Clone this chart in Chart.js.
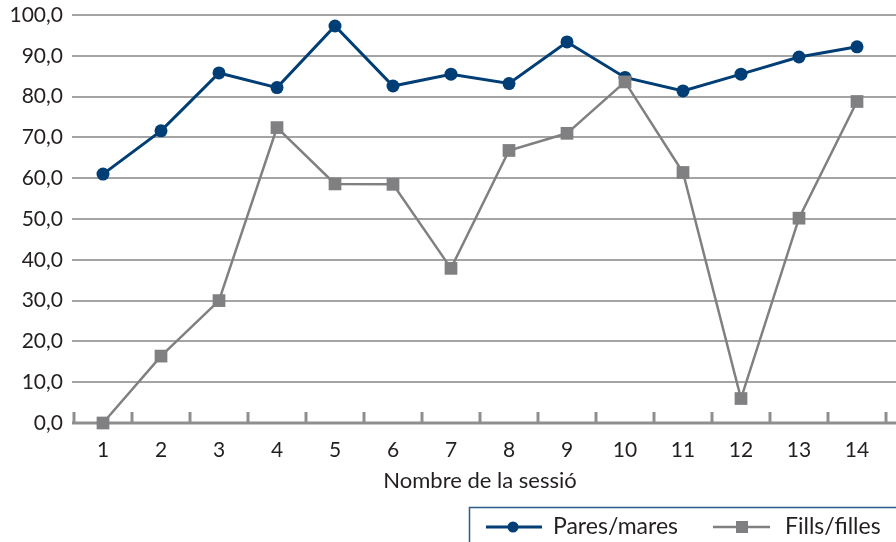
<!DOCTYPE html>
<html>
<head>
<meta charset="utf-8">
<title>Sessions</title>
<script src="https://cdn.jsdelivr.net/npm/chart.js@4.4.0/dist/chart.umd.min.js"></script>
<style>
  html, body { margin: 0; padding: 0; background: #fff; overflow: hidden; }
  #wrap { position: relative; width: 896px; height: 542px; }
</style>
</head>
<body>
<div id="wrap"><canvas id="sessionChart" width="896" height="542"></canvas></div>
<script>
// Session numbers and percentage per group
const sessions = ['1', '2', '3', '4', '5', '6', '7', '8', '9', '10', '11', '12', '13', '14'];
const paresMares = [61.0, 71.6, 85.8, 82.2, 97.3, 82.6, 85.5, 83.2, 93.4, 84.7, 81.4, 85.5, 89.7, 92.2];
const fillsFilles = [0.0, 16.4, 30.0, 72.4, 58.6, 58.5, 37.9, 66.8, 71.0, 83.6, 61.4, 6.0, 50.2, 78.8];
const yTickValues = [0, 10, 20, 30, 40, 50, 60, 70, 80, 90, 100];

const BLUE = '#003e75';
const GREY = '#808083';
const AXIS = '#8e8e8e';
const GRID = '#a4a4a4';
const TEXT = '#231f20';
const FONT = 'Lato';

// draws the small upward ticks between sessions and stretches grid to the edge
const axisExtras = {
  id: 'axisExtras',
  beforeDatasetsDraw(chart) {
    const { ctx, chartArea, scales } = chart;
    const x = scales.x, y = scales.y;
    ctx.save();
    ctx.strokeStyle = GRID;
    ctx.lineWidth = 2;
    yTickValues.forEach(function (v) {
      if (v === 0) return;
      const py = Math.round(y.getPixelForValue(v));
      ctx.beginPath();
      ctx.moveTo(chartArea.left - 2, py);
      ctx.lineTo(chart.width, py);
      ctx.stroke();
    });
    const base = y.getPixelForValue(0);
    ctx.strokeStyle = AXIS;
    ctx.lineWidth = 3;
    ctx.beginPath();
    ctx.moveTo(chartArea.left - 2, base);
    ctx.lineTo(chart.width, base);
    ctx.stroke();
    const step = x.getPixelForValue(1) - x.getPixelForValue(0);
    for (let i = 0; i <= sessions.length; i++) {
      const px = Math.round(x.getPixelForValue(0) + (i - 0.5) * step);
      ctx.beginPath();
      ctx.moveTo(px, base);
      ctx.lineTo(px, base - 11);
      ctx.stroke();
    }
    ctx.restore();
  },
};

// boxed legend in the lower right corner
const boxLegend = {
  id: 'boxLegend',
  afterDraw(chart) {
    const ctx = chart.ctx;
    ctx.save();
    ctx.strokeStyle = '#2d5b8a';
    ctx.lineWidth = 1.5;
    ctx.strokeRect(469.5, 507.5, 600, 100);

    const ly = 527;
    ctx.lineWidth = 3;
    ctx.strokeStyle = BLUE;
    ctx.beginPath();
    ctx.moveTo(486, ly);
    ctx.lineTo(542, ly);
    ctx.stroke();
    ctx.fillStyle = BLUE;
    ctx.beginPath();
    ctx.arc(513, ly, 5.5, 0, Math.PI * 2);
    ctx.fill();

    ctx.lineWidth = 2.5;
    ctx.strokeStyle = GREY;
    ctx.beginPath();
    ctx.moveTo(713, ly);
    ctx.lineTo(770, ly);
    ctx.stroke();
    ctx.fillStyle = GREY;
    ctx.fillRect(736, ly - 6, 12, 12);

    ctx.fillStyle = TEXT;
    ctx.font = '23px ' + FONT;
    ctx.textBaseline = 'middle';
    ctx.fillText('Pares/mares', 553, ly);
    ctx.fillText('Fills/filles', 785, ly);
    ctx.restore();
  },
};

const ctx = document.getElementById('sessionChart').getContext('2d');
new Chart(ctx, {
  type: 'line',
  data: {
    labels: sessions,
    datasets: [
      {
        label: 'Pares/mares',
        data: paresMares,
        borderColor: BLUE,
        backgroundColor: BLUE,
        borderWidth: 3,
        pointRadius: 6.5,
        pointStyle: 'circle',
        pointBorderWidth: 0,
        order: 1,
        clip: false,
      },
      {
        label: 'Fills/filles',
        data: fillsFilles,
        borderColor: GREY,
        backgroundColor: GREY,
        borderWidth: 2.5,
        pointRadius: 9,
        pointStyle: 'rect',
        pointBorderWidth: 0,
        order: 0,
        clip: false,
      },
    ],
  },
  options: {
    responsive: false,
    animation: false,
    devicePixelRatio: 1,
    layout: { padding: { top: 15, right: 10, left: 0, bottom: 0 } },
    plugins: {
      legend: { display: false },
      tooltip: { enabled: false },
    },
    scales: {
      x: {
        type: 'category',
        offset: true,
        grid: { display: false },
        border: { display: false },
        ticks: {
          color: TEXT,
          font: { family: FONT, size: 21 },
          padding: 7,
          maxRotation: 0,
        },
        title: {
          display: true,
          text: 'Nombre de la sessió',
          color: TEXT,
          font: { family: FONT, size: 22 },
          padding: { top: 4, bottom: 48 },
        },
        afterFit: function (scale) {
          scale.height = 119;
        },
      },
      y: {
        min: 0,
        max: 100,
        afterBuildTicks: function (scale) {
          scale.ticks = yTickValues.map((v) => ({ value: v }));
        },
        // tick marks are kept only as spacing between the labels and the plot
        grid: { display: false, drawTicks: true, tickLength: 11, tickColor: 'rgba(0,0,0,0)' },
        border: { display: false },
        ticks: {
          color: TEXT,
          font: { family: FONT, size: 21 },
          padding: 0,
          callback: function (v) {
            return Number(v).toFixed(1).replace('.', ',');
          },
        },
        afterFit: function (scale) {
          scale.width = 74;
        },
      },
    },
  },
  plugins: [axisExtras, boxLegend],
});
</script>
</body>
</html>
